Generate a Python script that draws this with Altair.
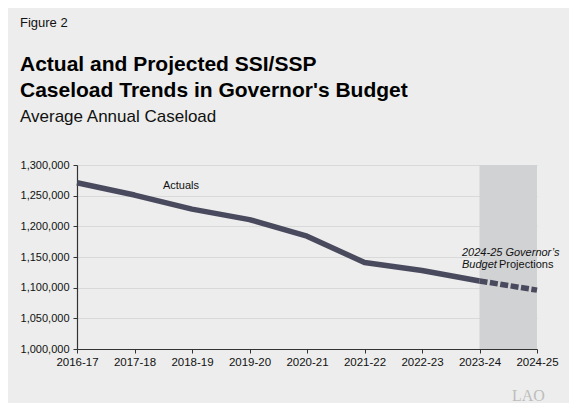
import altair as alt
import pandas as pd

years = ["2016-17", "2017-18", "2018-19", "2019-20", "2020-21",
         "2021-22", "2022-23", "2023-24", "2024-25"]
caseload = [1271000, 1251000, 1228000, 1211000, 1184000,
            1141000, 1128000, 1111000, 1096000]
y_ticks = [1000000, 1050000, 1100000, 1150000, 1200000, 1250000, 1300000]

FONT = "Liberation Sans"
LINE_COLOR = "#4a4a5e"
BG = "#ecedec"

df = pd.DataFrame({"year": years, "caseload": caseload})
actual = df.iloc[:8]
projected = df.iloc[7:]

x_scale = alt.Scale(type="point", padding=0, domain=years)
y_scale = alt.Scale(domain=[1000000, 1300000], nice=False, zero=False)

x_axis = alt.Axis(title=None, labelAngle=0, grid=False, domainColor="#333333",
                  tickColor="#333333", tickSize=4, labelFontSize=11.5,
                  labelColor="#111111", labelPadding=3, labelFont=FONT,
                  domainWidth=1.2)
y_axis = alt.Axis(title=None, values=y_ticks, format=",d", grid=True,
                  gridColor="#d8d9d9", domainColor="#333333", tickColor="#333333",
                  tickSize=4, labelFontSize=11, labelColor="#111111",
                  labelPadding=4, labelFont=FONT, domainWidth=1.2)

shade = alt.Chart(pd.DataFrame({"start": ["2023-24"], "end": ["2024-25"]})).mark_rect(
    color="#d1d2d4"
).encode(
    x=alt.X("start:O", scale=x_scale, axis=x_axis, sort=years),
    x2="end",
    y=alt.YDatum(1000000, scale=y_scale, axis=y_axis),
    y2=alt.datum(1300000),
)

line_actual = alt.Chart(actual).mark_line(
    color=LINE_COLOR, strokeWidth=5.5, strokeJoin="round"
).encode(
    x=alt.X("year:O", scale=x_scale, axis=x_axis, sort=years),
    y=alt.Y("caseload:Q", scale=y_scale, axis=y_axis),
)

line_proj = alt.Chart(projected).mark_line(
    color=LINE_COLOR, strokeWidth=5.5, strokeDash=[8, 2.5]
).encode(
    x=alt.X("year:O", scale=x_scale, axis=x_axis, sort=years),
    y=alt.Y("caseload:Q", scale=y_scale, axis=y_axis),
)

one = pd.DataFrame({"a": [0]})

def txt(text, x, y, size, weight="normal", style="normal", color="#111111",
        font=FONT, align="left", dx=0):
    return alt.Chart(one).mark_text(
        text=text, font=font, fontSize=size, fontWeight=weight, fontStyle=style,
        color=color, align=align, baseline="alphabetic", dx=dx
    ).encode(x=x, y=y)

def xd(v):
    return alt.XDatum(v, type="ordinal", scale=x_scale, axis=x_axis)

def yd(v):
    return alt.YDatum(v, type="quantitative", scale=y_scale, axis=y_axis)

actuals_lbl = txt("Actuals", xd("2018-19"), yd(1261000), 11,
                  align="center", dx=-11)
proj1 = txt("2024-25 Governor\u2019s", xd("2023-24"), yd(1152000), 11,
            style="italic", dx=-17.5)
proj2 = txt("Budget", xd("2023-24"), yd(1131500), 11,
            style="italic", dx=-17.5)
proj3 = txt("Projections", xd("2023-24"), yd(1131500), 11,
            dx=19.5)

fig = txt("Figure 2", alt.value(-57), alt.value(-138), 13)
t1 = txt("Actual and Projected SSI/SSP", alt.value(-57), alt.value(-94), 21,
         weight="bold", color="#000000")
t2 = txt("Caseload Trends in Governor's Budget", alt.value(-57), alt.value(-68), 21,
         weight="bold", color="#000000")
sub = txt("Average Annual Caseload", alt.value(-57), alt.value(-43), 17)
logo = txt("LAO", alt.value(435), alt.value(236), 16, font="Liberation Serif",
           color="#bdbdbd")

chart = alt.layer(
    shade, line_actual, line_proj, actuals_lbl, proj1, proj2, proj3,
    fig, t1, t2, sub, logo
).properties(
    width=460, height=184,
    autosize=alt.AutoSizeParams(type="none"),
    padding={"left": 69, "top": 157, "right": 32, "bottom": 54},
    background=BG,
).configure_view(stroke=None)

chart.save("out.html", embed_options={"renderer": "svg", "actions": False})
